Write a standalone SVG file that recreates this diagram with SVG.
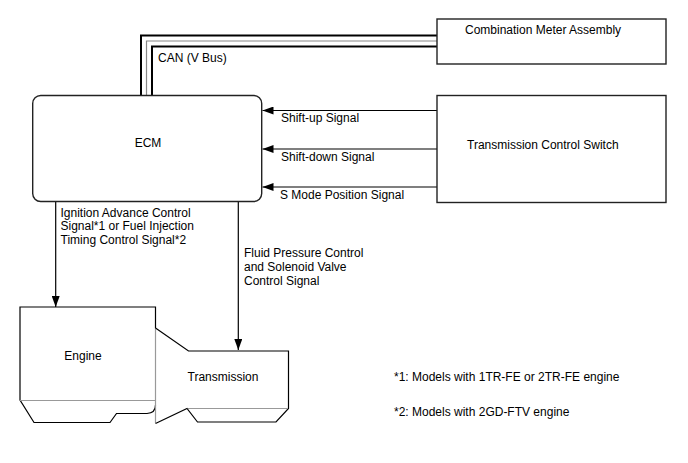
<svg xmlns="http://www.w3.org/2000/svg" width="688" height="463" viewBox="0 0 688 463">
<defs>
<style>
text{font-family:"Liberation Sans",Arial,sans-serif;font-size:12px;fill:#000}
.box{fill:#fff;stroke:#222;stroke-width:1.4}
.ln{fill:none;stroke:#000;stroke-width:1.2}
.gr{fill:none;stroke:#999;stroke-width:1.2}
.bus{fill:none;stroke:#000;stroke-width:2}
.busm{fill:none;stroke:#888;stroke-width:1.2}
</style>
<marker id="ah" markerUnits="userSpaceOnUse" markerWidth="12" markerHeight="8" refX="11" refY="4" orient="auto">
<path d="M0,0 L11,4 L0,8 Z" fill="#000"/>
</marker>
</defs>
<rect width="688" height="463" fill="#fff"/>
<g id="connectors">
<polyline class="bus" points="141,97 141,35.5 437,35.5"/>
<polyline class="busm" points="146.5,97 146.5,41 437,41"/>
<polyline class="bus" points="152,97 152,46.5 437,46.5"/>
<text x="158" y="62">CAN (V Bus)</text>
<line class="ln" x1="437" y1="110.5" x2="262.5" y2="110.5" marker-end="url(#ah)"/>
<text x="281" y="122">Shift-up Signal</text>
<line class="ln" x1="437" y1="149" x2="262.5" y2="149" marker-end="url(#ah)"/>
<text x="281" y="161">Shift-down Signal</text>
<line class="ln" x1="437" y1="187" x2="262.5" y2="187" marker-end="url(#ah)"/>
<text x="280" y="198.5">S Mode Position Signal</text>
<line class="ln" x1="55.7" y1="202" x2="55.7" y2="307" marker-end="url(#ah)"/>
<text x="60.5" y="216.5">Ignition Advance Control</text>
<text x="60.5" y="230">Signal*1 or Fuel Injection</text>
<text x="60.5" y="243.5">Timing Control Signal*2</text>
<line class="ln" x1="238.3" y1="202" x2="238.3" y2="350" marker-end="url(#ah)"/>
<text x="244" y="256.5">Fluid Pressure Control</text>
<text x="244" y="270.5">and Solenoid Valve</text>
<text x="244" y="284.5">Control Signal</text>
</g>
<g id="meter">
<rect class="box" x="437" y="19" width="229" height="45"/>
<text x="465" y="33.5">Combination Meter Assembly</text>
</g>
<g id="ecm">
<rect class="box" x="32.7" y="95.5" width="229" height="106" rx="8" ry="8"/>
<text x="148" y="147" text-anchor="middle">ECM</text>
</g>
<g id="switch">
<rect class="box" x="437" y="95.5" width="229" height="107"/>
<text x="467" y="148.5">Transmission Control Switch</text>
</g>
<g id="engine">
<path class="ln" d="M155.5,328 L155.5,307 L20,307 L20,400 L34,422.5 L110,422.5 L116.5,413.5 L147,413.5 Q155.5,413 155.5,405"/>
<line class="gr" x1="20" y1="400.5" x2="155.5" y2="400.5"/>
<text x="83" y="359.5" text-anchor="middle">Engine</text>
</g>
<g id="transmission">
<line class="gr" x1="155.5" y1="328" x2="155.5" y2="423"/>
<path class="ln" d="M155.5,328 L188.5,351 L288.5,351 L288.5,408.5 L276,422 L197.5,422 L187,408.5 L155.5,423.5"/>
<line class="gr" x1="188" y1="408.5" x2="288" y2="408.5"/>
<text x="187.5" y="381">Transmission</text>
</g>
<g id="notes">
<text x="394" y="381">*1: Models with 1TR-FE or 2TR-FE engine</text>
<text x="394" y="415.5">*2: Models with 2GD-FTV engine</text>
</g>
</svg>
